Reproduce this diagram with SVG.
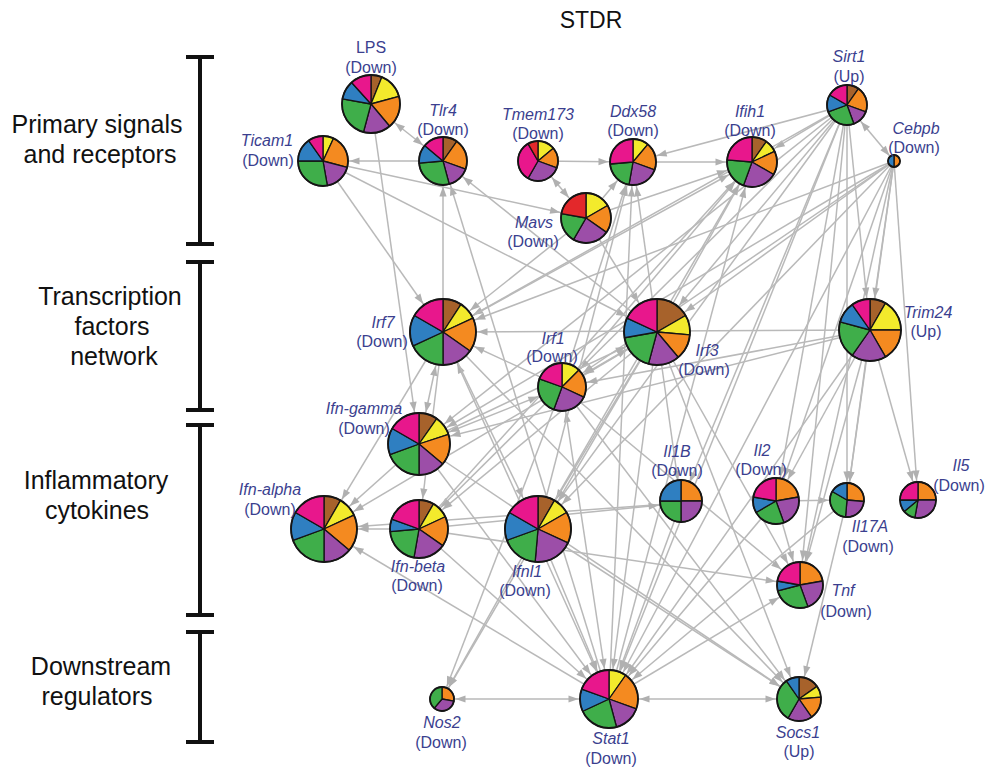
<svg xmlns="http://www.w3.org/2000/svg" width="989" height="772" viewBox="0 0 989 772">
<style>
.bg{fill:#fff}
.e line{stroke:#b9b9b9;stroke-width:1.5;fill:none}
marker path{fill:#b0b0b0}
.pie path{stroke:#151515;stroke-width:1.3;stroke-linejoin:round;vector-effect:non-scaling-stroke}
.rim{fill:none;stroke:#151515;stroke-width:1.8;vector-effect:non-scaling-stroke}
.br{fill:#a7622b}.ye{fill:#f3ea2c}.or{fill:#f48a20}.pu{fill:#9c4ea8}.gr{fill:#3fae4a}.bl{fill:#2f7fc1}.mg{fill:#e8178c}.rd{fill:#e3282b}
.lb{font-family:"Liberation Sans",Arial,sans-serif;font-size:16px;fill:#3b3f8f;text-anchor:middle}
.it{font-style:italic}
.side{font-family:"Liberation Sans",Arial,sans-serif;font-size:25px;fill:#111;text-anchor:middle}
.bar{stroke:#111;stroke-width:4;fill:none}
</style>
<defs>
<marker id="m6" markerUnits="userSpaceOnUse" orient="auto-start-reverse" refX="7" refY="0" markerWidth="12" markerHeight="12" overflow="visible"><path d="M0 0L-10 -3.6L-10 3.6Z"/></marker>
<marker id="m12" markerUnits="userSpaceOnUse" orient="auto-start-reverse" refX="13.5" refY="0" markerWidth="12" markerHeight="12" overflow="visible"><path d="M0 0L-10 -3.6L-10 3.6Z"/></marker>
<marker id="m17" markerUnits="userSpaceOnUse" orient="auto-start-reverse" refX="18.5" refY="0" markerWidth="12" markerHeight="12" overflow="visible"><path d="M0 0L-10 -3.6L-10 3.6Z"/></marker>
<marker id="m18" markerUnits="userSpaceOnUse" orient="auto-start-reverse" refX="19.5" refY="0" markerWidth="12" markerHeight="12" overflow="visible"><path d="M0 0L-10 -3.6L-10 3.6Z"/></marker>
<marker id="m20" markerUnits="userSpaceOnUse" orient="auto-start-reverse" refX="21.5" refY="0" markerWidth="12" markerHeight="12" overflow="visible"><path d="M0 0L-10 -3.6L-10 3.6Z"/></marker>
<marker id="m21" markerUnits="userSpaceOnUse" orient="auto-start-reverse" refX="22.5" refY="0" markerWidth="12" markerHeight="12" overflow="visible"><path d="M0 0L-10 -3.6L-10 3.6Z"/></marker>
<marker id="m22" markerUnits="userSpaceOnUse" orient="auto-start-reverse" refX="23.5" refY="0" markerWidth="12" markerHeight="12" overflow="visible"><path d="M0 0L-10 -3.6L-10 3.6Z"/></marker>
<marker id="m23" markerUnits="userSpaceOnUse" orient="auto-start-reverse" refX="24.5" refY="0" markerWidth="12" markerHeight="12" overflow="visible"><path d="M0 0L-10 -3.6L-10 3.6Z"/></marker>
<marker id="m24" markerUnits="userSpaceOnUse" orient="auto-start-reverse" refX="25.5" refY="0" markerWidth="12" markerHeight="12" overflow="visible"><path d="M0 0L-10 -3.6L-10 3.6Z"/></marker>
<marker id="m25" markerUnits="userSpaceOnUse" orient="auto-start-reverse" refX="26.5" refY="0" markerWidth="12" markerHeight="12" overflow="visible"><path d="M0 0L-10 -3.6L-10 3.6Z"/></marker>
<marker id="m29" markerUnits="userSpaceOnUse" orient="auto-start-reverse" refX="30.5" refY="0" markerWidth="12" markerHeight="12" overflow="visible"><path d="M0 0L-10 -3.6L-10 3.6Z"/></marker>
<marker id="m31" markerUnits="userSpaceOnUse" orient="auto-start-reverse" refX="32.5" refY="0" markerWidth="12" markerHeight="12" overflow="visible"><path d="M0 0L-10 -3.6L-10 3.6Z"/></marker>
<marker id="m33" markerUnits="userSpaceOnUse" orient="auto-start-reverse" refX="34.5" refY="0" markerWidth="12" markerHeight="12" overflow="visible"><path d="M0 0L-10 -3.6L-10 3.6Z"/></marker>
</defs>
<rect class="bg" x="0" y="0" width="989" height="772"/>
<text x="591" y="28" class="side" style="font-size:23px">STDR</text>
<g id="axis">
<path class="bar" d="M200 57V244M186 57H214M186 244H214M200 262V410M186 262H214M186 410H214M200 425V615M186 425H214M186 615H214M200 632V742M186 632H214M186 742H214"/>
<text class="side" x="97" y="133">Primary signals</text>
<text class="side" x="100" y="163">and receptors</text>
<text class="side" x="110" y="305">Transcription</text>
<text class="side" x="112" y="335">factors</text>
<text class="side" x="114" y="365">network</text>
<text class="side" x="96" y="489">Inflammatory</text>
<text class="side" x="97" y="519">cytokines</text>
<text class="side" x="101" y="675">Downstream</text>
<text class="side" x="97" y="705">regulators</text>
</g>
<g id="connectors" class="e">
<line x1="371" y1="104" x2="443" y2="161" marker-start="url(#m29)" marker-end="url(#m24)"/>
<line x1="443" y1="161" x2="323" y2="161" marker-end="url(#m25)"/>
<line x1="538" y1="161" x2="633" y2="162" marker-end="url(#m23)"/>
<line x1="538" y1="161" x2="586" y2="218" marker-start="url(#m20)" marker-end="url(#m25)"/>
<line x1="586" y1="218" x2="633" y2="162" marker-end="url(#m23)"/>
<line x1="633" y1="162" x2="752" y2="162" marker-end="url(#m25)"/>
<line x1="847" y1="105" x2="633" y2="162" marker-end="url(#m23)"/>
<line x1="847" y1="105" x2="752" y2="162" marker-end="url(#m25)"/>
<line x1="847" y1="105" x2="894" y2="161" marker-start="url(#m20)" marker-end="url(#m6)"/>
<line x1="323" y1="161" x2="657" y2="332" marker-end="url(#m33)"/>
<line x1="323" y1="161" x2="443" y2="332" marker-end="url(#m33)"/>
<line x1="371" y1="104" x2="419" y2="444" marker-end="url(#m31)"/>
<line x1="443" y1="332" x2="443" y2="161" marker-end="url(#m24)"/>
<line x1="609" y1="699" x2="443" y2="161" marker-end="url(#m24)"/>
<line x1="657" y1="332" x2="443" y2="161" marker-end="url(#m24)"/>
<line x1="323" y1="161" x2="586" y2="218" marker-end="url(#m25)"/>
<line x1="870" y1="330" x2="443" y2="332" marker-end="url(#m33)"/>
<line x1="847" y1="105" x2="443" y2="332" marker-end="url(#m33)"/>
<line x1="894" y1="161" x2="443" y2="332" marker-end="url(#m33)"/>
<line x1="562" y1="387" x2="443" y2="332" marker-end="url(#m33)"/>
<line x1="443" y1="332" x2="609" y2="699" marker-start="url(#m33)" marker-end="url(#m29)"/>
<line x1="443" y1="332" x2="324" y2="529" marker-end="url(#m33)"/>
<line x1="443" y1="332" x2="419" y2="529" marker-end="url(#m29)"/>
<line x1="443" y1="332" x2="538" y2="529" marker-end="url(#m33)"/>
<line x1="657" y1="332" x2="324" y2="529" marker-end="url(#m33)"/>
<line x1="657" y1="332" x2="419" y2="529" marker-end="url(#m29)"/>
<line x1="657" y1="332" x2="538" y2="529" marker-end="url(#m33)"/>
<line x1="657" y1="332" x2="609" y2="699" marker-end="url(#m29)"/>
<line x1="657" y1="332" x2="562" y2="387" marker-start="url(#m33)" marker-end="url(#m24)"/>
<line x1="562" y1="387" x2="419" y2="444" marker-start="url(#m24)" marker-end="url(#m31)"/>
<line x1="562" y1="387" x2="419" y2="529" marker-end="url(#m29)"/>
<line x1="562" y1="387" x2="609" y2="699" marker-start="url(#m24)" marker-end="url(#m29)"/>
<line x1="562" y1="387" x2="799" y2="699" marker-end="url(#m22)"/>
<line x1="562" y1="387" x2="442" y2="699" marker-end="url(#m12)"/>
<line x1="419" y1="444" x2="609" y2="699" marker-end="url(#m29)"/>
<line x1="419" y1="444" x2="324" y2="529" marker-end="url(#m33)"/>
<line x1="419" y1="529" x2="324" y2="529" marker-end="url(#m33)"/>
<line x1="681" y1="503" x2="324" y2="529" marker-end="url(#m33)"/>
<line x1="419" y1="529" x2="800" y2="585" marker-end="url(#m23)"/>
<line x1="443" y1="332" x2="419" y2="444" marker-start="url(#m33)" marker-end="url(#m31)"/>
<line x1="609" y1="699" x2="799" y2="699" marker-start="url(#m29)" marker-end="url(#m22)"/>
<line x1="609" y1="699" x2="442" y2="699" marker-start="url(#m29)" marker-end="url(#m12)"/>
<line x1="538" y1="529" x2="442" y2="699" marker-end="url(#m12)"/>
<line x1="657" y1="332" x2="442" y2="699" marker-end="url(#m12)"/>
<line x1="609" y1="699" x2="324" y2="529" marker-end="url(#m33)"/>
<line x1="538" y1="529" x2="609" y2="699" marker-end="url(#m29)"/>
<line x1="419" y1="529" x2="609" y2="699" marker-end="url(#m29)"/>
<line x1="681" y1="503" x2="609" y2="699" marker-end="url(#m29)"/>
<line x1="776" y1="501" x2="609" y2="699" marker-end="url(#m29)"/>
<line x1="847" y1="105" x2="609" y2="699" marker-end="url(#m29)"/>
<line x1="894" y1="161" x2="609" y2="699" marker-end="url(#m29)"/>
<line x1="870" y1="330" x2="609" y2="699" marker-end="url(#m29)"/>
<line x1="609" y1="699" x2="752" y2="162" marker-end="url(#m25)"/>
<line x1="609" y1="699" x2="633" y2="162" marker-end="url(#m23)"/>
<line x1="609" y1="699" x2="800" y2="585" marker-end="url(#m23)"/>
<line x1="847" y1="500" x2="609" y2="699" marker-end="url(#m29)"/>
<line x1="847" y1="500" x2="799" y2="699" marker-end="url(#m22)"/>
<line x1="538" y1="529" x2="799" y2="699" marker-end="url(#m22)"/>
<line x1="419" y1="444" x2="799" y2="699" marker-end="url(#m22)"/>
<line x1="657" y1="332" x2="799" y2="699" marker-end="url(#m22)"/>
<line x1="776" y1="501" x2="847" y2="500" marker-end="url(#m17)"/>
<line x1="870" y1="330" x2="918" y2="500" marker-end="url(#m18)"/>
<line x1="894" y1="161" x2="918" y2="500" marker-end="url(#m18)"/>
<line x1="847" y1="105" x2="847" y2="500" marker-end="url(#m17)"/>
<line x1="870" y1="330" x2="847" y2="500" marker-end="url(#m17)"/>
<line x1="894" y1="161" x2="847" y2="500" marker-end="url(#m17)"/>
<line x1="870" y1="330" x2="776" y2="501" marker-end="url(#m23)"/>
<line x1="894" y1="161" x2="776" y2="501" marker-end="url(#m23)"/>
<line x1="847" y1="105" x2="776" y2="501" marker-end="url(#m23)"/>
<line x1="562" y1="387" x2="800" y2="585" marker-end="url(#m23)"/>
<line x1="657" y1="332" x2="800" y2="585" marker-end="url(#m23)"/>
<line x1="870" y1="330" x2="800" y2="585" marker-end="url(#m23)"/>
<line x1="847" y1="105" x2="800" y2="585" marker-end="url(#m23)"/>
<line x1="894" y1="161" x2="800" y2="585" marker-end="url(#m23)"/>
<line x1="776" y1="501" x2="800" y2="585" marker-end="url(#m23)"/>
<line x1="847" y1="105" x2="562" y2="387" marker-end="url(#m24)"/>
<line x1="894" y1="161" x2="562" y2="387" marker-end="url(#m24)"/>
<line x1="870" y1="330" x2="562" y2="387" marker-end="url(#m24)"/>
<line x1="847" y1="105" x2="657" y2="332" marker-end="url(#m33)"/>
<line x1="894" y1="161" x2="657" y2="332" marker-end="url(#m33)"/>
<line x1="586" y1="218" x2="657" y2="332" marker-end="url(#m33)"/>
<line x1="443" y1="332" x2="752" y2="162" marker-end="url(#m25)"/>
<line x1="562" y1="387" x2="752" y2="162" marker-end="url(#m25)"/>
<line x1="657" y1="332" x2="752" y2="162" marker-end="url(#m25)"/>
<line x1="657" y1="332" x2="633" y2="162" marker-end="url(#m23)"/>
<line x1="562" y1="387" x2="633" y2="162" marker-end="url(#m23)"/>
<line x1="847" y1="105" x2="419" y2="444" marker-end="url(#m31)"/>
<line x1="894" y1="161" x2="419" y2="444" marker-end="url(#m31)"/>
<line x1="847" y1="105" x2="538" y2="529" marker-end="url(#m33)"/>
<line x1="894" y1="161" x2="538" y2="529" marker-end="url(#m33)"/>
<line x1="870" y1="330" x2="419" y2="444" marker-end="url(#m31)"/>
<line x1="847" y1="105" x2="681" y2="503" marker-end="url(#m21)"/>
<line x1="419" y1="444" x2="657" y2="332" marker-end="url(#m33)"/>
<line x1="586" y1="218" x2="443" y2="332" marker-end="url(#m33)"/>
<line x1="586" y1="218" x2="752" y2="162" marker-end="url(#m25)"/>
<line x1="538" y1="529" x2="752" y2="162" marker-end="url(#m25)"/>
<line x1="419" y1="529" x2="752" y2="162" marker-end="url(#m25)"/>
<line x1="538" y1="529" x2="633" y2="162" marker-end="url(#m23)"/>
<line x1="443" y1="332" x2="799" y2="699" marker-end="url(#m22)"/>
<line x1="419" y1="529" x2="681" y2="503" marker-end="url(#m21)"/>
<line x1="847" y1="105" x2="870" y2="330" marker-end="url(#m31)"/>
<line x1="894" y1="161" x2="870" y2="330" marker-end="url(#m31)"/>
<line x1="657" y1="332" x2="681" y2="503" marker-end="url(#m21)"/>
</g>
<g id="LPS"><g class="pie" transform="translate(371 104) scale(2.9)">
<path class="br" d="M0 0L0 -10A10 10 0 0 1 3.75 -9.27Z"/><path class="ye" d="M0 0L3.75 -9.27A10 10 0 0 1 9.66 -2.59Z"/><path class="or" d="M0 0L9.66 -2.59A10 10 0 0 1 6.43 7.66Z"/><path class="pu" d="M0 0L6.43 7.66A10 10 0 0 1 -2.59 9.66Z"/><path class="gr" d="M0 0L-2.59 9.66A10 10 0 0 1 -9.85 -1.74Z"/><path class="bl" d="M0 0L-9.85 -1.74A10 10 0 0 1 -6.69 -7.43Z"/><path class="mg" d="M0 0L-6.69 -7.43A10 10 0 0 1 0 -10Z"/><circle class="rim" r="10"/></g>
<text class="lb" x="371" y="53">LPS</text><text class="lb" x="371" y="73">(Down)</text></g>
<g id="Tlr4"><g class="pie" transform="translate(443 161) scale(2.4)">
<path class="br" d="M0 0L0 -10A10 10 0 0 1 5.74 -8.19Z"/><path class="or" d="M0 0L5.74 -8.19A10 10 0 0 1 9.4 3.42Z"/><path class="pu" d="M0 0L9.4 3.42A10 10 0 0 1 2.59 9.66Z"/><path class="gr" d="M0 0L2.59 9.66A10 10 0 0 1 -9.96 0.87Z"/><path class="bl" d="M0 0L-9.96 0.87A10 10 0 0 1 -7.66 -6.43Z"/><path class="mg" d="M0 0L-7.66 -6.43A10 10 0 0 1 0 -10Z"/><circle class="rim" r="10"/></g>
<text class="lb it" x="443" y="116">Tlr4</text><text class="lb" x="443" y="135">(Down)</text></g>
<g id="Ticam1"><g class="pie" transform="translate(323 161) scale(2.5)">
<path class="ye" d="M0 0L0 -10A10 10 0 0 1 4.23 -9.06Z"/><path class="or" d="M0 0L4.23 -9.06A10 10 0 0 1 9.66 2.59Z"/><path class="pu" d="M0 0L9.66 2.59A10 10 0 0 1 1.74 9.85Z"/><path class="gr" d="M0 0L1.74 9.85A10 10 0 0 1 -10 0Z"/><path class="bl" d="M0 0L-10 0A10 10 0 0 1 -5.74 -8.19Z"/><path class="mg" d="M0 0L-5.74 -8.19A10 10 0 0 1 0 -10Z"/><circle class="rim" r="10"/></g>
<text class="lb it" x="267" y="146">Ticam1</text><text class="lb" x="268" y="166">(Down)</text></g>
<g id="Tmem173"><g class="pie" transform="translate(538 161) scale(2.0)">
<path class="ye" d="M0 0L0 -10A10 10 0 0 1 7.66 -6.43Z"/><path class="or" d="M0 0L7.66 -6.43A10 10 0 0 1 9.4 3.42Z"/><path class="pu" d="M0 0L9.4 3.42A10 10 0 0 1 -5 8.66Z"/><path class="mg" d="M0 0L-5 8.66A10 10 0 0 1 -5 -8.66Z"/><path class="rd" d="M0 0L-5 -8.66A10 10 0 0 1 0 -10Z"/><circle class="rim" r="10"/></g>
<text class="lb it" x="538" y="120">Tmem173</text><text class="lb" x="538" y="139">(Down)</text></g>
<g id="Ddx58"><g class="pie" transform="translate(633 162) scale(2.3)">
<path class="ye" d="M0 0L0 -10A10 10 0 0 1 6.43 -7.66Z"/><path class="or" d="M0 0L6.43 -7.66A10 10 0 0 1 9.4 3.42Z"/><path class="pu" d="M0 0L9.4 3.42A10 10 0 0 1 -1.74 9.85Z"/><path class="gr" d="M0 0L-1.74 9.85A10 10 0 0 1 -9.96 0.87Z"/><path class="mg" d="M0 0L-9.96 0.87A10 10 0 0 1 0 -10Z"/><circle class="rim" r="10"/></g>
<text class="lb it" x="633" y="117">Ddx58</text><text class="lb" x="633" y="136">(Down)</text></g>
<g id="Mavs"><g class="pie" transform="translate(586 218) scale(2.5)">
<path class="ye" d="M0 0L0 -10A10 10 0 0 1 8.66 -5Z"/><path class="or" d="M0 0L8.66 -5A10 10 0 0 1 8.19 5.74Z"/><path class="pu" d="M0 0L8.19 5.74A10 10 0 0 1 -5 8.66Z"/><path class="gr" d="M0 0L-5 8.66A10 10 0 0 1 -9.85 -1.74Z"/><path class="rd" d="M0 0L-9.85 -1.74A10 10 0 0 1 0 -10Z"/><circle class="rim" r="10"/></g>
<text class="lb it" x="534" y="228">Mavs</text><text class="lb" x="533" y="247">(Down)</text></g>
<g id="Ifih1"><g class="pie" transform="translate(752 162) scale(2.5)">
<path class="br" d="M0 0L0 -10A10 10 0 0 1 5.74 -8.19Z"/><path class="ye" d="M0 0L5.74 -8.19A10 10 0 0 1 9.06 -4.23Z"/><path class="or" d="M0 0L9.06 -4.23A10 10 0 0 1 8.66 5Z"/><path class="pu" d="M0 0L8.66 5A10 10 0 0 1 -3.42 9.4Z"/><path class="gr" d="M0 0L-3.42 9.4A10 10 0 0 1 -9.96 -0.87Z"/><path class="mg" d="M0 0L-9.96 -0.87A10 10 0 0 1 0 -10Z"/><circle class="rim" r="10"/></g>
<text class="lb it" x="750" y="117">Ifih1</text><text class="lb" x="750" y="136">(Down)</text></g>
<g id="Sirt1"><g class="pie" transform="translate(847 105) scale(2.0)">
<path class="br" d="M0 0L0 -10A10 10 0 0 1 5.74 -8.19Z"/><path class="or" d="M0 0L5.74 -8.19A10 10 0 0 1 9.4 3.42Z"/><path class="pu" d="M0 0L9.4 3.42A10 10 0 0 1 3.42 9.4Z"/><path class="gr" d="M0 0L3.42 9.4A10 10 0 0 1 -9.4 3.42Z"/><path class="bl" d="M0 0L-9.4 3.42A10 10 0 0 1 -8.66 -5Z"/><path class="mg" d="M0 0L-8.66 -5A10 10 0 0 1 0 -10Z"/><circle class="rim" r="10"/></g>
<text class="lb it" x="849" y="62">Sirt1</text><text class="lb" x="849" y="82">(Up)</text></g>
<g id="Cebpb"><g class="pie" transform="translate(894 161) scale(0.6)">
<path class="or" d="M0 0L0 -10A10 10 0 0 1 0 10Z"/><path class="bl" d="M0 0L0 10A10 10 0 0 1 0 -10Z"/><circle class="rim" r="10"/></g>
<text class="lb it" x="916" y="134">Cebpb</text><text class="lb" x="914" y="153">(Down)</text></g>
<g id="Irf7"><g class="pie" transform="translate(443 332) scale(3.3)">
<path class="br" d="M0 0L0 -10A10 10 0 0 1 5.45 -8.39Z"/><path class="ye" d="M0 0L5.45 -8.39A10 10 0 0 1 9.06 -4.23Z"/><path class="or" d="M0 0L9.06 -4.23A10 10 0 0 1 8.19 5.74Z"/><path class="pu" d="M0 0L8.19 5.74A10 10 0 0 1 0 10Z"/><path class="gr" d="M0 0L0 10A10 10 0 0 1 -9.06 4.23Z"/><path class="bl" d="M0 0L-9.06 4.23A10 10 0 0 1 -8.66 -5Z"/><path class="mg" d="M0 0L-8.66 -5A10 10 0 0 1 0 -10Z"/><circle class="rim" r="10"/></g>
<text class="lb it" x="383" y="328">Irf7</text><text class="lb" x="382" y="347">(Down)</text></g>
<g id="Irf3"><g class="pie" transform="translate(657 332) scale(3.3)">
<path class="br" d="M0 0L0 -10A10 10 0 0 1 8.66 -5Z"/><path class="ye" d="M0 0L8.66 -5A10 10 0 0 1 9.96 0.87Z"/><path class="or" d="M0 0L9.96 0.87A10 10 0 0 1 6.43 7.66Z"/><path class="pu" d="M0 0L6.43 7.66A10 10 0 0 1 -2.59 9.66Z"/><path class="gr" d="M0 0L-2.59 9.66A10 10 0 0 1 -9.85 1.74Z"/><path class="bl" d="M0 0L-9.85 1.74A10 10 0 0 1 -9.06 -4.23Z"/><path class="mg" d="M0 0L-9.06 -4.23A10 10 0 0 1 0 -10Z"/><circle class="rim" r="10"/></g>
<text class="lb it" x="707" y="356">Irf3</text><text class="lb" x="704" y="375">(Down)</text></g>
<g id="Irf1"><g class="pie" transform="translate(562 387) scale(2.4)">
<path class="ye" d="M0 0L0 -10A10 10 0 0 1 7.07 -7.07Z"/><path class="or" d="M0 0L7.07 -7.07A10 10 0 0 1 9.06 4.23Z"/><path class="pu" d="M0 0L9.06 4.23A10 10 0 0 1 -3.42 9.4Z"/><path class="gr" d="M0 0L-3.42 9.4A10 10 0 0 1 -9.4 -3.42Z"/><path class="mg" d="M0 0L-9.4 -3.42A10 10 0 0 1 0 -10Z"/><circle class="rim" r="10"/></g>
<text class="lb it" x="553" y="344">Irf1</text><text class="lb" x="552" y="362">(Down)</text></g>
<g id="Trim24"><g class="pie" transform="translate(870 330) scale(3.1)">
<path class="br" d="M0 0L0 -10A10 10 0 0 1 5 -8.66Z"/><path class="ye" d="M0 0L5 -8.66A10 10 0 0 1 10 0Z"/><path class="or" d="M0 0L10 0A10 10 0 0 1 5 8.66Z"/><path class="pu" d="M0 0L5 8.66A10 10 0 0 1 -5.74 8.19Z"/><path class="gr" d="M0 0L-5.74 8.19A10 10 0 0 1 -9.66 -2.59Z"/><path class="bl" d="M0 0L-9.66 -2.59A10 10 0 0 1 -5.74 -8.19Z"/><path class="mg" d="M0 0L-5.74 -8.19A10 10 0 0 1 0 -10Z"/><circle class="rim" r="10"/></g>
<text class="lb it" x="928" y="318">Trim24</text><text class="lb" x="926" y="337">(Up)</text></g>
<g id="Ifn-gamma"><g class="pie" transform="translate(419 444) scale(3.1)">
<path class="br" d="M0 0L0 -10A10 10 0 0 1 5.74 -8.19Z"/><path class="ye" d="M0 0L5.74 -8.19A10 10 0 0 1 9.51 -3.09Z"/><path class="or" d="M0 0L9.51 -3.09A10 10 0 0 1 7.66 6.43Z"/><path class="pu" d="M0 0L7.66 6.43A10 10 0 0 1 0 10Z"/><path class="gr" d="M0 0L0 10A10 10 0 0 1 -9.4 3.42Z"/><path class="bl" d="M0 0L-9.4 3.42A10 10 0 0 1 -8.66 -5Z"/><path class="mg" d="M0 0L-8.66 -5A10 10 0 0 1 0 -10Z"/><circle class="rim" r="10"/></g>
<text class="lb it" x="364" y="414">Ifn-gamma</text><text class="lb" x="364" y="434">(Down)</text></g>
<g id="Ifn-alpha"><g class="pie" transform="translate(324 529) scale(3.3)">
<path class="br" d="M0 0L0 -10A10 10 0 0 1 5 -8.66Z"/><path class="ye" d="M0 0L5 -8.66A10 10 0 0 1 9.06 -4.23Z"/><path class="or" d="M0 0L9.06 -4.23A10 10 0 0 1 7.66 6.43Z"/><path class="pu" d="M0 0L7.66 6.43A10 10 0 0 1 0 10Z"/><path class="gr" d="M0 0L0 10A10 10 0 0 1 -9.4 3.42Z"/><path class="bl" d="M0 0L-9.4 3.42A10 10 0 0 1 -8.66 -5Z"/><path class="mg" d="M0 0L-8.66 -5A10 10 0 0 1 0 -10Z"/><circle class="rim" r="10"/></g>
<text class="lb it" x="270" y="495">Ifn-alpha</text><text class="lb" x="270" y="515">(Down)</text></g>
<g id="Ifn-beta"><g class="pie" transform="translate(419 529) scale(2.9)">
<path class="br" d="M0 0L0 -10A10 10 0 0 1 5 -8.66Z"/><path class="ye" d="M0 0L5 -8.66A10 10 0 0 1 9.06 -4.23Z"/><path class="or" d="M0 0L9.06 -4.23A10 10 0 0 1 8.19 5.74Z"/><path class="pu" d="M0 0L8.19 5.74A10 10 0 0 1 -1.74 9.85Z"/><path class="gr" d="M0 0L-1.74 9.85A10 10 0 0 1 -9.96 0.87Z"/><path class="bl" d="M0 0L-9.96 0.87A10 10 0 0 1 -9.4 -3.42Z"/><path class="mg" d="M0 0L-9.4 -3.42A10 10 0 0 1 0 -10Z"/><circle class="rim" r="10"/></g>
<text class="lb it" x="418" y="572">Ifn-beta</text><text class="lb" x="417" y="591">(Down)</text></g>
<g id="Ifnl1"><g class="pie" transform="translate(538 529) scale(3.3)">
<path class="br" d="M0 0L0 -10A10 10 0 0 1 5 -8.66Z"/><path class="ye" d="M0 0L5 -8.66A10 10 0 0 1 8.66 -5Z"/><path class="or" d="M0 0L8.66 -5A10 10 0 0 1 9.06 4.23Z"/><path class="pu" d="M0 0L9.06 4.23A10 10 0 0 1 -0.87 9.96Z"/><path class="gr" d="M0 0L-0.87 9.96A10 10 0 0 1 -9.4 3.42Z"/><path class="bl" d="M0 0L-9.4 3.42A10 10 0 0 1 -8.66 -5Z"/><path class="mg" d="M0 0L-8.66 -5A10 10 0 0 1 0 -10Z"/><circle class="rim" r="10"/></g>
<text class="lb it" x="527" y="577">Ifnl1</text><text class="lb" x="525" y="596">(Down)</text></g>
<g id="Il1B"><g class="pie" transform="translate(681 501) scale(2.1)">
<path class="or" d="M0 0L0 -10A10 10 0 0 1 10 0Z"/><path class="pu" d="M0 0L10 0A10 10 0 0 1 0 10Z"/><path class="gr" d="M0 0L0 10A10 10 0 0 1 -10 0Z"/><path class="bl" d="M0 0L-10 0A10 10 0 0 1 0 -10Z"/><circle class="rim" r="10"/></g>
<text class="lb it" x="677" y="457">Il1B</text><text class="lb" x="677" y="476">(Down)</text></g>
<g id="Il2"><g class="pie" transform="translate(776 501) scale(2.3)">
<path class="or" d="M0 0L0 -10A10 10 0 0 1 9.85 -1.74Z"/><path class="pu" d="M0 0L9.85 -1.74A10 10 0 0 1 3.42 9.4Z"/><path class="gr" d="M0 0L3.42 9.4A10 10 0 0 1 -8.66 5Z"/><path class="bl" d="M0 0L-8.66 5A10 10 0 0 1 -9.85 -1.74Z"/><path class="mg" d="M0 0L-9.85 -1.74A10 10 0 0 1 0 -10Z"/><circle class="rim" r="10"/></g>
<text class="lb it" x="762" y="456">Il2</text><text class="lb" x="761" y="475">(Down)</text></g>
<g id="Il17A"><g class="pie" transform="translate(847 500) scale(1.7)">
<path class="or" d="M0 0L0 -10A10 10 0 0 1 9.96 0.87Z"/><path class="pu" d="M0 0L9.96 0.87A10 10 0 0 1 -0.87 9.96Z"/><path class="gr" d="M0 0L-0.87 9.96A10 10 0 0 1 -8.66 -5Z"/><path class="bl" d="M0 0L-8.66 -5A10 10 0 0 1 0 -10Z"/><circle class="rim" r="10"/></g>
<text class="lb it" x="870" y="532">Il17A</text><text class="lb" x="868" y="552">(Down)</text></g>
<g id="Il5"><g class="pie" transform="translate(918 500) scale(1.8)">
<path class="or" d="M0 0L0 -10A10 10 0 0 1 10 0Z"/><path class="pu" d="M0 0L10 0A10 10 0 0 1 -1.74 9.85Z"/><path class="gr" d="M0 0L-1.74 9.85A10 10 0 0 1 -7.66 6.43Z"/><path class="bl" d="M0 0L-7.66 6.43A10 10 0 0 1 -10 0Z"/><path class="mg" d="M0 0L-10 0A10 10 0 0 1 0 -10Z"/><circle class="rim" r="10"/></g>
<text class="lb it" x="961" y="471">Il5</text><text class="lb" x="959" y="491">(Down)</text></g>
<g id="Tnf"><g class="pie" transform="translate(800 585) scale(2.3)">
<path class="or" d="M0 0L0 -10A10 10 0 0 1 9.85 -1.74Z"/><path class="pu" d="M0 0L9.85 -1.74A10 10 0 0 1 3.42 9.4Z"/><path class="gr" d="M0 0L3.42 9.4A10 10 0 0 1 -9.66 2.59Z"/><path class="bl" d="M0 0L-9.66 2.59A10 10 0 0 1 -9.85 -1.74Z"/><path class="mg" d="M0 0L-9.85 -1.74A10 10 0 0 1 0 -10Z"/><circle class="rim" r="10"/></g>
<text class="lb it" x="843" y="596">Tnf</text><text class="lb" x="846" y="617">(Down)</text></g>
<g id="Nos2"><g class="pie" transform="translate(442 699) scale(1.2)">
<path class="or" d="M0 0L0 -10A10 10 0 0 1 9.85 1.74Z"/><path class="pu" d="M0 0L9.85 1.74A10 10 0 0 1 -6.43 7.66Z"/><path class="gr" d="M0 0L-6.43 7.66A10 10 0 0 1 0 -10Z"/><circle class="rim" r="10"/></g>
<text class="lb it" x="442" y="728">Nos2</text><text class="lb" x="441" y="748">(Down)</text></g>
<g id="Stat1"><g class="pie" transform="translate(609 699) scale(2.9)">
<path class="ye" d="M0 0L0 -10A10 10 0 0 1 5.74 -8.19Z"/><path class="or" d="M0 0L5.74 -8.19A10 10 0 0 1 9.4 3.42Z"/><path class="pu" d="M0 0L9.4 3.42A10 10 0 0 1 2.59 9.66Z"/><path class="gr" d="M0 0L2.59 9.66A10 10 0 0 1 -9.06 4.23Z"/><path class="bl" d="M0 0L-9.06 4.23A10 10 0 0 1 -9.4 -3.42Z"/><path class="mg" d="M0 0L-9.4 -3.42A10 10 0 0 1 0 -10Z"/><circle class="rim" r="10"/></g>
<text class="lb it" x="611" y="744">Stat1</text><text class="lb" x="611" y="764">(Down)</text></g>
<g id="Socs1"><g class="pie" transform="translate(799 699) scale(2.2)">
<path class="br" d="M0 0L0 -10A10 10 0 0 1 8.19 -5.74Z"/><path class="ye" d="M0 0L8.19 -5.74A10 10 0 0 1 9.96 -0.87Z"/><path class="or" d="M0 0L9.96 -0.87A10 10 0 0 1 5.74 8.19Z"/><path class="pu" d="M0 0L5.74 8.19A10 10 0 0 1 -5 8.66Z"/><path class="gr" d="M0 0L-5 8.66A10 10 0 0 1 -5.74 -8.19Z"/><path class="bl" d="M0 0L-5.74 -8.19A10 10 0 0 1 0 -10Z"/><circle class="rim" r="10"/></g>
<text class="lb it" x="798" y="738">Socs1</text><text class="lb" x="799" y="757">(Up)</text></g>
</svg>
